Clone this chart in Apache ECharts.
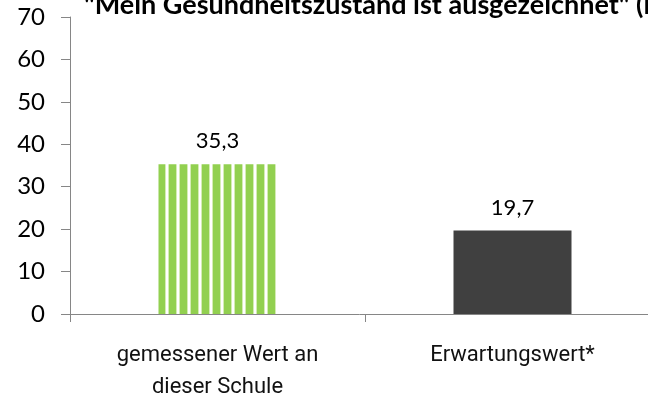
<!DOCTYPE html>
<html>
<head>
<meta charset="utf-8">
<script src="https://cdn.jsdelivr.net/npm/echarts@6/dist/echarts.min.js"></script>
<style>
  html, body { margin: 0; padding: 0; background: #fff; }
  #chart { width: 648px; height: 401px; }
</style>
</head>
<body>
<div id="chart"></div>
<script>
const categories = ['gemessener Wert an\ndieser Schule', 'Erwartungswert*']
const values = [35.3, 19.7]
const yTicks = [0, 10, 20, 30, 40, 50, 60, 70]

// gestreiftes Muster für den ersten Balken
const stripe = document.createElement('canvas')
stripe.width = 11
stripe.height = 4
const ctx = stripe.getContext('2d')
ctx.fillStyle = '#ffffff'
ctx.fillRect(0, 0, 11, 4)
ctx.fillStyle = '#d4ecb4'
ctx.fillRect(0, 0, 1, 4)
ctx.fillRect(3, 0, 1, 4)
ctx.fillStyle = '#92d050'
ctx.fillRect(4, 0, 7, 4)

const myChart = echarts.init(document.getElementById('chart'))
const option = {
  animation: false,
  title: {
    text: '"Mein Gesundheitszustand ist ausgezeichnet" (in %)',
    left: 79,
    top: -13,
    textStyle: {
      fontFamily: 'Lato',
      fontWeight: 'bold',
      fontSize: 27,
      color: '#000',
    },
  },
  grid: {
    left: 70,
    right: -12,
    top: 17,
    bottom: 87,
    containLabel: false,
    outerBoundsMode: 'none',
  },
  xAxis: {
    type: 'category',
    data: categories,
    axisLine: { lineStyle: { color: '#868686', width: 1 } },
    axisTick: { show: true, length: 8, lineStyle: { color: '#868686' } },
    axisLabel: {
      fontFamily: 'Roboto',
      fontSize: 22,
      color: '#111',
      lineHeight: 32,
      margin: 25,
    },
  },
  yAxis: {
    type: 'value',
    min: yTicks[0],
    max: yTicks[yTicks.length - 1],
    interval: 10,
    splitLine: { show: false },
    axisLine: { show: true, lineStyle: { color: '#868686', width: 1 } },
    axisTick: { show: true, length: 9, lineStyle: { color: '#868686' } },
    axisLabel: {
      fontFamily: 'Lato',
      fontSize: 24,
      color: '#000',
      margin: 25,
    },
  },
  series: [
    {
      type: 'bar',
      barWidth: 118,
      data: [
        { value: values[0], itemStyle: { color: { image: stripe, repeat: 'repeat' } } },
        { value: values[1], itemStyle: { color: '#404040' } },
      ],
      label: {
        show: true,
        position: 'top',
        distance: 12,
        fontFamily: 'Lato',
        fontSize: 22,
        color: '#000',
        formatter: (p) => String(p.value).replace('.', ','),
      },
    },
  ],
}
myChart.setOption(option)
</script>
</body>
</html>
